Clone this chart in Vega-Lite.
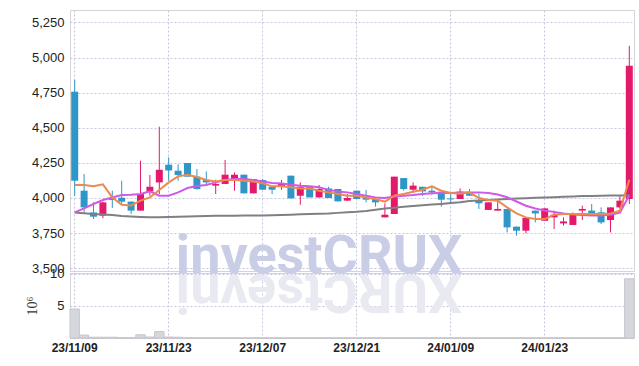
{
 "$schema": "https://vega.github.io/schema/vega-lite/v6.json",
 "padding": {"left": 25, "top": 9, "right": 8, "bottom": 5},
 "background": "white",
 "spacing": 2,
 "bounds": "flush",
 "config": {
  "view": {"stroke": "#d4d4d8"},
  "axis": {"gridColor": "#c4c7dc", "gridDash": [2, 2], "gridWidth": 1, "labelFont": "Liberation Sans", "labelFontSize": 13, "labelColor": "#222222", "ticks": false, "domain": false}
 },
 "datasets": {
  "px": [
   {"d":"23/11/09","o":4757,"h":4842,"l":4016,"c":4123,"ma5":4093,"ma20":3897,"ma60":3897,"vol":4.5},
   {"d":"23/11/10","o":4052,"h":4171,"l":3897,"c":3933,"ma5":4093,"ma20":3926,"ma60":3892,"vol":0.45},
   {"d":"23/11/13","o":3897,"h":3969,"l":3850,"c":3867,"ma5":4083,"ma20":3957,"ma60":3886,"vol":0.12},
   {"d":"23/11/14","o":3874,"h":3974,"l":3856,"c":3969,"ma5":4097,"ma20":3986,"ma60":3882,"vol":0.12},
   {"d":"23/11/15","o":3997,"h":4052,"l":3929,"c":3986,"ma5":4004,"ma20":4004,"ma60":3878,"vol":0.12},
   {"d":"23/11/16","o":4002,"h":4123,"l":3952,"c":3974,"ma5":3952,"ma20":4021,"ma60":3872,"vol":0.05},
   {"d":"23/11/17","o":3974,"h":3976,"l":3886,"c":3910,"ma5":3947,"ma20":4023,"ma60":3868,"vol":0.05},
   {"d":"23/11/20","o":3910,"h":4266,"l":3910,"c":4028,"ma5":3981,"ma20":4028,"ma60":3865,"vol":0.5},
   {"d":"23/11/21","o":4047,"h":4164,"l":4016,"c":4080,"ma5":4004,"ma20":4047,"ma60":3862,"vol":0.15},
   {"d":"23/11/22","o":4111,"h":4508,"l":4028,"c":4201,"ma5":4057,"ma20":4016,"ma60":3862,"vol":1.0},
   {"d":"23/11/23","o":4237,"h":4289,"l":4123,"c":4196,"ma5":4111,"ma20":4016,"ma60":3864,"vol":0.15},
   {"d":"23/11/24","o":4194,"h":4240,"l":4123,"c":4164,"ma5":4154,"ma20":4040,"ma60":3866,"vol":0.12},
   {"d":"23/11/27","o":4249,"h":4249,"l":4152,"c":4152,"ma5":4166,"ma20":4071,"ma60":3868,"vol":0.03},
   {"d":"23/11/28","o":4152,"h":4206,"l":4060,"c":4064,"ma5":4150,"ma20":4085,"ma60":3870,"vol":0.03},
   {"d":"23/11/29","o":4128,"h":4189,"l":4093,"c":4111,"ma5":4128,"ma20":4093,"ma60":3872,"vol":0.03},
   {"d":"23/11/30","o":4088,"h":4130,"l":4028,"c":4100,"ma5":4118,"ma20":4111,"ma60":3874,"vol":0.03},
   {"d":"23/12/01","o":4100,"h":4271,"l":4100,"c":4166,"ma5":4128,"ma20":4128,"ma60":3874,"vol":0.03},
   {"d":"23/12/04","o":4135,"h":4182,"l":4052,"c":4166,"ma5":4128,"ma20":4135,"ma60":3874,"vol":0.03},
   {"d":"23/12/05","o":4166,"h":4166,"l":4033,"c":4033,"ma5":4123,"ma20":4135,"ma60":3875,"vol":0.03},
   {"d":"23/12/06","o":4033,"h":4135,"l":4033,"c":4135,"ma5":4118,"ma20":4128,"ma60":3875,"vol":0.03},
   {"d":"23/12/07","o":4128,"h":4135,"l":4059,"c":4059,"ma5":4104,"ma20":4118,"ma60":3876,"vol":0.03},
   {"d":"23/12/08","o":4080,"h":4080,"l":4028,"c":4059,"ma5":4083,"ma20":4107,"ma60":3877,"vol":0.03},
   {"d":"23/12/11","o":4083,"h":4128,"l":4059,"c":4104,"ma5":4083,"ma20":4104,"ma60":3879,"vol":0.03},
   {"d":"23/12/12","o":4159,"h":4159,"l":3997,"c":3997,"ma5":4076,"ma20":4095,"ma60":3881,"vol":0.03},
   {"d":"23/12/13","o":4016,"h":4111,"l":3952,"c":4080,"ma5":4068,"ma20":4088,"ma60":3884,"vol":0.03},
   {"d":"23/12/14","o":4080,"h":4080,"l":4004,"c":4004,"ma5":4068,"ma20":4083,"ma60":3886,"vol":0.03},
   {"d":"23/12/15","o":4004,"h":4093,"l":4004,"c":4064,"ma5":4052,"ma20":4076,"ma60":3888,"vol":0.03},
   {"d":"23/12/18","o":4068,"h":4080,"l":4000,"c":4000,"ma5":4040,"ma20":4058,"ma60":3890,"vol":0.03},
   {"d":"23/12/19","o":4064,"h":4064,"l":3976,"c":3976,"ma5":4028,"ma20":4047,"ma60":3894,"vol":0.03},
   {"d":"23/12/20","o":3981,"h":4028,"l":3981,"c":4000,"ma5":4016,"ma20":4040,"ma60":3898,"vol":0.03},
   {"d":"23/12/21","o":4052,"h":4052,"l":3993,"c":3993,"ma5":4016,"ma20":4028,"ma60":3902,"vol":0.03},
   {"d":"23/12/22","o":4000,"h":4057,"l":3969,"c":3988,"ma5":4004,"ma20":4016,"ma60":3908,"vol":0.03},
   {"d":"23/12/26","o":3993,"h":3993,"l":3938,"c":3969,"ma5":3993,"ma20":4004,"ma60":3916,"vol":0.03},
   {"d":"23/12/27","o":3862,"h":3962,"l":3862,"c":3881,"ma5":3974,"ma20":4000,"ma60":3925,"vol":0.03},
   {"d":"23/12/28","o":3886,"h":4152,"l":3886,"c":4152,"ma5":4016,"ma20":4011,"ma60":3931,"vol":0.03},
   {"d":"24/01/02","o":4142,"h":4142,"l":4052,"c":4064,"ma5":4028,"ma20":4016,"ma60":3937,"vol":0.03},
   {"d":"24/01/03","o":4059,"h":4111,"l":4040,"c":4088,"ma5":4045,"ma20":4021,"ma60":3943,"vol":0.03},
   {"d":"24/01/04","o":4080,"h":4080,"l":4016,"c":4047,"ma5":4059,"ma20":4028,"ma60":3948,"vol":0.03},
   {"d":"24/01/05","o":4052,"h":4088,"l":4023,"c":4040,"ma5":4083,"ma20":4033,"ma60":3953,"vol":0.03},
   {"d":"24/01/08","o":4045,"h":4045,"l":3938,"c":3988,"ma5":4052,"ma20":4035,"ma60":3958,"vol":0.03},
   {"d":"24/01/09","o":3997,"h":4028,"l":3962,"c":3990,"ma5":4035,"ma20":4035,"ma60":3964,"vol":0.03},
   {"d":"24/01/10","o":3993,"h":4068,"l":3993,"c":4045,"ma5":4030,"ma20":4040,"ma60":3970,"vol":0.03},
   {"d":"24/01/11","o":4040,"h":4064,"l":4016,"c":4016,"ma5":4040,"ma20":4040,"ma60":3978,"vol":0.03},
   {"d":"24/01/12","o":3981,"h":4028,"l":3922,"c":3962,"ma5":4000,"ma20":4040,"ma60":3982,"vol":0.03},
   {"d":"24/01/15","o":3915,"h":3969,"l":3915,"c":3969,"ma5":3986,"ma20":4035,"ma60":3986,"vol":0.03},
   {"d":"24/01/16","o":3910,"h":3986,"l":3910,"c":3922,"ma5":3981,"ma20":4025,"ma60":3990,"vol":0.03},
   {"d":"24/01/17","o":3922,"h":3922,"l":3755,"c":3791,"ma5":3933,"ma20":4005,"ma60":3993,"vol":0.03},
   {"d":"24/01/18","o":3796,"h":3796,"l":3732,"c":3767,"ma5":3890,"ma20":3975,"ma60":3996,"vol":0.03},
   {"d":"24/01/19","o":3767,"h":3858,"l":3748,"c":3858,"ma5":3862,"ma20":3945,"ma60":3999,"vol":0.03},
   {"d":"24/01/22","o":3910,"h":3910,"l":3826,"c":3890,"ma5":3850,"ma20":3925,"ma60":4002,"vol":0.03},
   {"d":"24/01/23","o":3838,"h":3926,"l":3838,"c":3926,"ma5":3850,"ma20":3910,"ma60":4004,"vol":0.03},
   {"d":"24/01/24","o":3862,"h":3910,"l":3779,"c":3881,"ma5":3881,"ma20":3900,"ma60":4006,"vol":0.03},
   {"d":"24/01/25","o":3819,"h":3862,"l":3803,"c":3833,"ma5":3886,"ma20":3890,"ma60":4009,"vol":0.03},
   {"d":"24/01/26","o":3808,"h":3897,"l":3808,"c":3881,"ma5":3886,"ma20":3882,"ma60":4011,"vol":0.03},
   {"d":"24/01/29","o":3910,"h":3945,"l":3843,"c":3922,"ma5":3886,"ma20":3878,"ma60":4014,"vol":0.03},
   {"d":"24/01/30","o":3910,"h":3957,"l":3886,"c":3890,"ma5":3886,"ma20":3876,"ma60":4015,"vol":0.03},
   {"d":"24/01/31","o":3898,"h":3933,"l":3815,"c":3826,"ma5":3886,"ma20":3876,"ma60":4016,"vol":0.03},
   {"d":"24/02/01","o":3843,"h":3933,"l":3755,"c":3933,"ma5":3890,"ma20":3880,"ma60":4017,"vol":0.03},
   {"d":"24/02/02","o":3933,"h":4016,"l":3926,"c":3981,"ma5":3910,"ma20":3895,"ma60":4018,"vol":0.03},
   {"d":"24/02/05","o":3993,"h":5084,"l":3957,"c":4942,"ma5":4130,"ma20":4020,"ma60":4020,"vol":9.2}
  ],
  "wm": [{"d":"23/12/15","t":"investCRUX","l":3468}],
  "wr": [{"d":"23/12/15","t":"XURCtsevni","vol":9.85}]
 },
 "vconcat": [
  {
   "width": 564,
   "height": 261,
   "encoding": {
    "x": {"field": "d", "type": "ordinal", "sort": "ascending", "scale": {"type": "band", "paddingInner": 0, "paddingOuter": 0},
          "axis": {"values": ["23/11/09","23/11/23","23/12/07","23/12/21","24/01/09","24/01/23"], "labels": false, "grid": true, "title": null}}
   },
   "layer": [
    {"data": {"name": "wm"}, "mark": {"type": "text", "font": "Roboto", "fontWeight": "bold", "fontSize": 54, "color": "#c9cee6", "baseline": "alphabetic", "align": "center"},
     "encoding": {"text": {"field": "t"},
                  "y": {"field": "l", "type": "quantitative", "scale": {"domain": [3480, 5339], "nice": false, "zero": false},
                        "axis": {"values": [3500,3750,4000,4250,4500,4750,5000,5250], "format": ",.0f", "title": null, "labelPadding": 6, "grid": true}}}},
    {"data": {"name": "px"}, "mark": {"type": "rule", "strokeWidth": 1},
     "encoding": {"y": {"field": "l", "type": "quantitative", "scale": {"domain": [3480, 5339], "nice": false, "zero": false},
                        "axis": {"values": [3500,3750,4000,4250,4500,4750,5000,5250], "format": ",.0f", "title": null, "labelPadding": 6, "grid": true}},
                  "y2": {"field": "h"},
                  "color": {"condition": {"test": "datum.c >= datum.o", "value": "#e5196c"}, "value": "#2f96c8"}}},
    {"data": {"name": "px"}, "mark": {"type": "bar", "size": 7},
     "encoding": {"y": {"field": "o", "type": "quantitative", "scale": {"domain": [3480, 5339], "nice": false, "zero": false},
                        "axis": {"values": [3500,3750,4000,4250,4500,4750,5000,5250], "format": ",.0f", "title": null, "labelPadding": 6, "grid": true}},
                  "y2": {"field": "c"},
                  "color": {"condition": {"test": "datum.c >= datum.o", "value": "#e5196c"}, "value": "#2f96c8"}}},
    {"data": {"name": "px"}, "mark": {"type": "line", "color": "#808080", "strokeWidth": 2},
     "encoding": {"y": {"field": "ma60", "type": "quantitative", "scale": {"domain": [3480, 5339], "nice": false, "zero": false},
                        "axis": {"values": [3500,3750,4000,4250,4500,4750,5000,5250], "format": ",.0f", "title": null, "labelPadding": 6, "grid": true}}}},
    {"data": {"name": "px"}, "mark": {"type": "line", "color": "#cf5ae6", "strokeWidth": 2},
     "encoding": {"y": {"field": "ma20", "type": "quantitative", "scale": {"domain": [3480, 5339], "nice": false, "zero": false},
                        "axis": {"values": [3500,3750,4000,4250,4500,4750,5000,5250], "format": ",.0f", "title": null, "labelPadding": 6, "grid": true}}}},
    {"data": {"name": "px"}, "mark": {"type": "line", "color": "#ee8a4e", "strokeWidth": 2},
     "encoding": {"y": {"field": "ma5", "type": "quantitative", "scale": {"domain": [3480, 5339], "nice": false, "zero": false},
                        "axis": {"values": [3500,3750,4000,4250,4500,4750,5000,5250], "format": ",.0f", "title": null, "labelPadding": 6, "grid": true}}}}
   ]
  },
  {
   "width": 564,
   "height": 65,
   "encoding": {
    "x": {"field": "d", "type": "ordinal", "sort": "ascending", "scale": {"type": "band", "paddingInner": 0, "paddingOuter": 0},
          "axis": {"values": ["23/11/09","23/11/23","23/12/07","23/12/21","24/01/09","24/01/23"], "grid": true, "title": null, "labelAngle": 0, "labelPadding": 4, "domain": true, "domainColor": "#c8c8cc", "labelFontWeight": "bold", "labelFontSize": 12}}
   },
   "layer": [
    {"data": {"name": "wr"}, "mark": {"type": "text", "font": "Roboto", "fontWeight": "bold", "fontSize": 54, "color": "#e8e9f1", "baseline": "alphabetic", "align": "center", "angle": 180},
     "encoding": {"text": {"field": "t"},
                  "y": {"field": "vol", "type": "quantitative", "scale": {"domain": [0, 10.1], "nice": false},
                        "axis": {"values": [5, 10], "title": "10⁶", "titleFont": "Liberation Serif", "titleFontWeight": "normal", "titleFontSize": 14, "titleColor": "#333333", "labelPadding": 6, "grid": true, "titlePadding": 10}}}},
    {"data": {"name": "px"}, "mark": {"type": "bar", "color": "#d6d6dd", "stroke": "#c6c6ce", "strokeWidth": 1},
     "encoding": {"y": {"field": "vol", "type": "quantitative", "scale": {"domain": [0, 10.1], "nice": false},
                        "axis": {"values": [5, 10], "title": "10⁶", "titleFont": "Liberation Serif", "titleFontWeight": "normal", "titleFontSize": 14, "titleColor": "#333333", "labelPadding": 6, "grid": true, "titlePadding": 10}}}}
   ]
  }
 ]
}
